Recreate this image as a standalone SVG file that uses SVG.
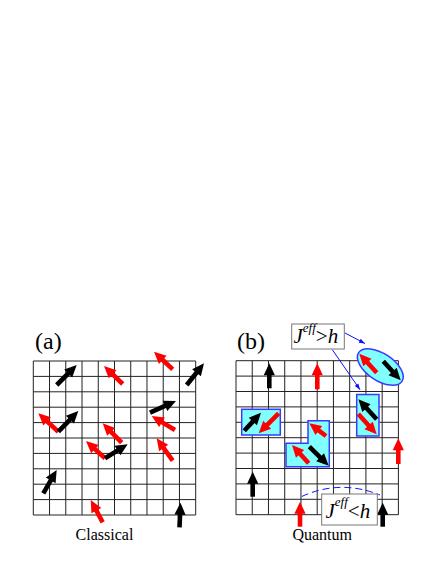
<svg xmlns="http://www.w3.org/2000/svg" width="436" height="564" viewBox="0 0 436 564">
<style>
.grid{fill:none;stroke:#222;stroke-width:1}
.sp{fill:none;stroke-width:4.6;stroke-linecap:butt;stroke-dasharray:60 100}
.r{stroke:#ff0000;marker-end:url(#hr)}
.k{stroke:#000;marker-end:url(#hk)}
.cell{fill:#80ffff;stroke:#3a3aff;stroke-width:1.5}
.lbl{font-family:"Liberation Serif","Times New Roman",serif;fill:#000}
.box{fill:#fff;stroke:#777;stroke-width:1}
.conn{fill:none;stroke:#1010ff;stroke-width:1}
</style>
<defs>
<marker id="hr" markerUnits="userSpaceOnUse" viewBox="-13 -7 14 14" refX="0" refY="0" markerWidth="14" markerHeight="14" orient="auto" overflow="visible"><path d="M-12,-5.6 L0,0 L-12,5.6 z" fill="#ff0000"/></marker>
<marker id="hk" markerUnits="userSpaceOnUse" viewBox="-13 -7 14 14" refX="0" refY="0" markerWidth="14" markerHeight="14" orient="auto" overflow="visible"><path d="M-12,-5.6 L0,0 L-12,5.6 z" fill="#000"/></marker>
<marker id="hb" markerUnits="userSpaceOnUse" viewBox="-7 -3 8 6" refX="0" refY="0" markerWidth="8" markerHeight="6" orient="auto" overflow="visible"><path d="M-6,-2.2 L0,0 L-6,2.2 z" fill="#1010ff"/></marker>
<path id="gridp" class="grid" d="M0,0H162.4M0,15.4H162.4M0,30.8H162.4M0,46.2H162.4M0,61.6H162.4M0,77H162.4M0,92.4H162.4M0,107.8H162.4M0,123.2H162.4M0,138.6H162.4M0,154H162.4M0,0V154M16.24,0V154M32.48,0V154M48.72,0V154M64.96,0V154M81.2,0V154M97.44,0V154M113.68,0V154M129.92,0V154M146.16,0V154M162.4,0V154"/>
</defs>

<g id="panel-a">
<use href="#gridp" transform="translate(33.3,361)"/>
<text class="lbl" x="35" y="348.5" font-size="24">(a)</text>
<text class="lbl" x="104.5" y="540" font-size="16" text-anchor="middle">Classical</text>
<g id="a-spins">
<path class="sp k" pathLength="100" d="M56.7,385L76.7,365"/>
<path class="sp r" pathLength="100" d="M122.7,384L104,366"/>
<path class="sp r" pathLength="100" d="M172.7,369.3L154,351.7"/>
<path class="sp k" pathLength="100" d="M186.7,385L204,363.3"/>
<path class="sp k" pathLength="100" d="M150,412.7L176,401"/>
<path class="sp r" pathLength="100" d="M175,430L151.7,416"/>
<path class="sp r" pathLength="100" d="M58.3,431.7L38.3,413.3"/>
<path class="sp k" pathLength="100" d="M58.3,431.7L78.3,411"/>
<path class="sp r" pathLength="100" d="M121.7,442.7L102.7,423.3"/>
<path class="sp r" pathLength="100" d="M105,458.3L86,441"/>
<path class="sp k" pathLength="100" d="M105,458.3L127.7,444.3"/>
<path class="sp r" pathLength="100" d="M172.7,460.7L156.7,438.3"/>
<path class="sp k" pathLength="100" d="M43.3,493.3L56.7,470"/>
<path class="sp r" pathLength="100" d="M102.7,522.3L90.7,500"/>
<path class="sp k" pathLength="100" d="M179.5,527.3L180.5,502.7"/>
</g>
</g>

<g id="panel-b">
<use href="#gridp" transform="translate(236,360.7)"/>
<text class="lbl" x="237" y="348.5" font-size="24">(b)</text>
<text class="lbl" x="322.2" y="540" font-size="16" text-anchor="middle">Quantum</text>
<g id="pair-ellipse"><ellipse class="cell" cx="380.3" cy="367" rx="26" ry="13.5" transform="rotate(33.5 380.3 367)"/></g>
<g id="pair-left"><rect class="cell" x="241.7" y="409.3" width="38.6" height="25.7"/></g>
<g id="triple-L"><path class="cell" d="M286,443.3H308V420.7H329.3V466.7H286Z"/></g>
<g id="pair-right"><rect class="cell" x="356.7" y="394.5" width="22.3" height="41.5"/></g>
<g id="b-spins">
<path class="sp k" pathLength="100" d="M269.3,388.3L269.3,363.3"/>
<path class="sp r" pathLength="100" d="M317.3,389.3L317.3,363.3"/>
<path class="sp r" pathLength="100" d="M376.7,372.7L359.3,353.7"/>
<path class="sp k" pathLength="100" d="M383.3,361.3L400.7,380.3"/>
<path class="sp k" pathLength="100" d="M244.3,430.7L261,412.7"/>
<path class="sp r" pathLength="100" d="M278.7,413.3L258.7,433.3"/>
<path class="sp r" pathLength="100" d="M326,436L309.3,423.3"/>
<path class="sp r" pathLength="100" d="M308.7,463.3L292,445"/>
<path class="sp k" pathLength="100" d="M309.3,446.7L328.7,465.7"/>
<path class="sp k" pathLength="100" d="M376.7,419.3L358.3,399.3"/>
<path class="sp r" pathLength="100" d="M358.3,414L376.7,434.3"/>
<path class="sp r" pathLength="100" d="M398.3,464L398.3,438.3"/>
<path class="sp k" pathLength="100" d="M252.7,496.7L252.7,471.7"/>
<path class="sp r" pathLength="100" d="M300,526.7L300,501.7"/>
<path class="sp k" pathLength="100" d="M382.7,526.7L382.7,502.7"/>
</g>
</g>

<g id="connectors">
<path class="conn" marker-end="url(#hb)" d="M345,333L365,343.5"/>
<path class="conn" marker-end="url(#hb)" d="M332.3,349.7L360,389.7"/>
<path class="conn" stroke-width="2" stroke-dasharray="7 4" d="M301.7,496.5Q340,479 380,495"/>
</g>

<g id="label-strong">
<rect class="box" x="291.7" y="324" width="52.6" height="25"/>
<text class="lbl" x="293.5" y="343" font-size="21" font-style="italic">J<tspan font-size="13" dy="-11">eff</tspan><tspan font-style="normal" font-size="21" dy="11">&gt;</tspan>h</text>
</g>
<g id="label-weak">
<rect class="box" x="321.7" y="494" width="55.6" height="31"/>
<text class="lbl" x="325.5" y="517.7" font-size="21" font-style="italic">J<tspan font-size="13" dy="-12">eff</tspan><tspan font-style="normal" font-size="21" dy="12">&lt;</tspan>h</text>
</g>
</svg>
